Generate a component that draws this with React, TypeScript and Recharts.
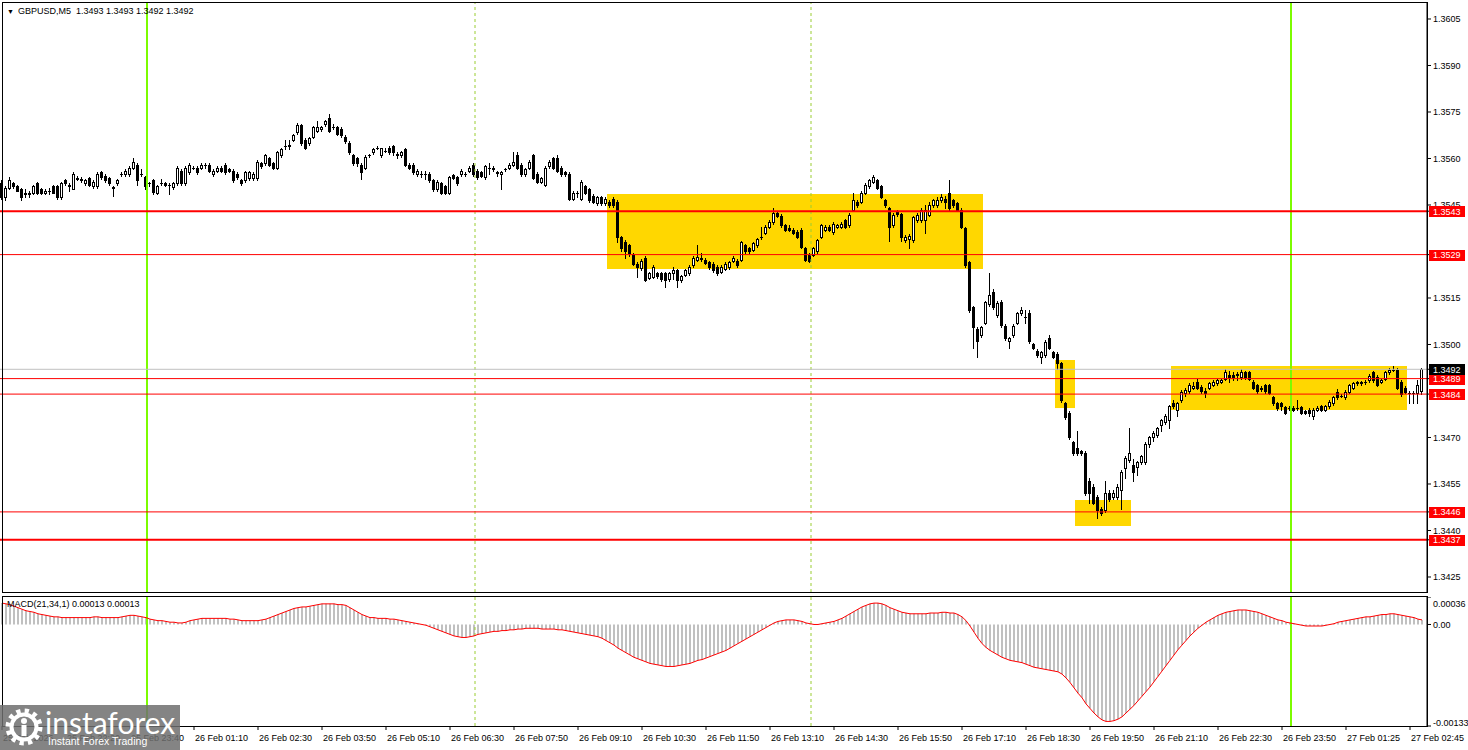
import { ComposedChart, Bar, Line, XAxis, YAxis, ReferenceLine, ReferenceArea } from 'recharts'

// GBPUSD M5, prices kept in pips above BASE
const BASE = 1.34

const opens = [
  152, 147.5, 150.5, 152, 151, 150, 148.5, 149, 149, 152,
  150, 149, 149.5, 151, 151, 147.6, 153, 151.5, 150, 153.7,
  153.5, 152, 153.7, 151, 151, 155.6, 154.4, 153.7, 150.8, 152,
  155, 155, 155, 157, 158, 155, 154, 152, 153, 149,
  152, 152, 151.5, 150.8, 152, 156, 152, 155.6, 157, 157,
  157, 158, 158, 155, 156, 157, 158, 156.5, 156, 155,
  153, 153, 153.7, 153.7, 153.7, 158.6, 158.5, 160, 158.6, 157,
  161, 164, 164, 166, 168.5, 170.8, 166, 165, 167, 169,
  169.5, 171, 173, 170, 170, 169.6, 167, 165, 161, 160,
  158, 157, 161, 162, 163.5, 161, 162.5, 163.5, 164, 161.5,
  161, 163, 158, 158, 155, 155, 155, 155, 153, 150,
  152, 151, 149, 154.7, 154, 155, 155, 156, 158, 156,
  155.5, 154, 157, 157, 155.5, 155, 156.5, 157, 158, 161,
  158, 155, 157, 161, 155, 152.4, 151.5, 157.5, 160, 160,
  157, 155.5, 155, 147, 149, 147, 151, 150, 148, 145.6,
  147.5, 145.6, 146, 147, 146, 134.6, 133, 132, 129, 126,
  124.7, 128, 121.5, 121.8, 123, 123, 123, 121, 123, 124,
  120.8, 122.5, 123, 125.6, 127.3, 128, 127.3, 126.6, 126, 125,
  123.4, 124.5, 125, 127, 127, 127.3, 132, 131, 130.5, 132,
  134.6, 136, 138, 139.5, 142.5, 141.5, 138.5, 137.5, 137, 136.3,
  137, 131, 129, 129, 130, 134.7, 137, 138, 136.3, 138,
  138, 140, 138.5, 143.4, 146, 146, 149, 151, 152.5, 153,
  151, 146.6, 144, 138.5, 142.8, 142, 133.7, 134, 133.7, 140,
  140, 140, 141.8, 145, 145, 146.5, 147, 148.8, 146.6, 145.6,
  143.4, 137.6, 126.6, 112, 105, 103, 107, 113, 117, 109.5,
  113.7, 106, 101, 103, 107, 110, 109, 110, 100, 98,
  96, 96.6, 102, 97.6, 97, 94, 81, 78, 68.6, 66.6,
  65.5, 65, 56, 54, 50.8, 47, 46.6, 52, 50.8, 50.8,
  53, 60, 62.7, 61, 60.4, 62, 62, 68, 70, 70.8,
  74, 75, 75.6, 81, 79, 82, 84.5, 85, 86, 88,
  86.3, 85, 86, 87, 87.6, 88, 89, 90, 90, 90,
  89.5, 91, 91, 88, 86.8, 86, 86.8, 86.8, 83, 81,
  81, 79.8, 79.5, 79.5, 79.5, 79.8, 78.5, 79, 77, 79,
  80, 79, 80, 81, 84.7, 83.5, 83, 84.7, 86, 87.5,
  87.8, 87.9, 88.5, 91, 89.5, 88, 89, 91, 91.8, 91.8,
  88, 86, 84.5, 84.4, 84.4, 85,
]

const highs = [
  153, 151, 154, 152.5, 151.5, 150.5, 150, 149.5, 151.5, 152.5,
  150.5, 150, 150.5, 151.5, 151.5, 152.5, 153.5, 152, 155.5, 154.5,
  154, 153.5, 154, 153, 155.5, 156, 155, 154, 151, 153.5,
  155.5, 156.5, 157.5, 160, 158.5, 156.5, 154.5, 152.5, 153.5, 151.5,
  153.5, 152.5, 152, 152.5, 157.5, 156.5, 157.5, 158.5, 157.5, 157.5,
  158.5, 158.5, 158.5, 156.5, 157.5, 157.5, 158.5, 157, 156.5, 155.5,
  153.5, 156, 156, 155.5, 159.5, 159, 161.5, 160.5, 159, 162.5,
  163.5, 166, 166, 168, 171.5, 171, 166.5, 167, 170.5, 172,
  170.5, 172.5, 174.5, 171, 170.5, 170, 167.5, 165.5, 161.5, 160.5,
  158.5, 161, 161.5, 163.5, 164, 163.5, 163.5, 164, 164.5, 162,
  162.5, 163.5, 158.5, 158.5, 156.5, 156, 156, 155.5, 153.5, 153,
  152.5, 151.5, 154.5, 155, 154.5, 156.5, 155.5, 157.5, 158.5, 156.5,
  156, 158, 158.5, 157.5, 156, 156, 157, 158.5, 162, 162,
  158.5, 157, 159.5, 161.5, 155.5, 154, 157.5, 159.5, 160.5, 161,
  157.5, 156, 155.5, 149.5, 149.5, 153, 151.5, 150.5, 148.5, 148,
  148, 147.5, 146.5, 147.5, 146.5, 135, 133.7, 132.5, 129.5, 126.5,
  127.5, 128.5, 123.5, 125.5, 123.5, 123.5, 123.5, 123.5, 125, 124.5,
  122.5, 124.5, 125.5, 128.5, 132, 129.5, 127.8, 127, 126.5, 125.5,
  125.5, 126.5, 127, 128.5, 127.5, 133.5, 132.5, 131.5, 133, 134.5,
  138, 138.5, 140, 144, 143, 142, 139, 138.5, 137.5, 136.8,
  137.5, 131.5, 129.5, 131.5, 134, 139, 138.5, 138.5, 139.5, 139,
  139.5, 140.5, 142.3, 149, 146.5, 149.5, 152, 153.5, 154.7, 153.5,
  151.5, 147, 144.5, 142.3, 143.3, 142.5, 135.2, 135.5, 141.5, 142.3,
  143.9, 145, 146, 147, 147.5, 148.5, 148, 153, 147, 146,
  144, 138, 127, 112.5, 105.5, 106, 114, 123, 118, 114,
  114.2, 106.5, 102.5, 106.5, 110.5, 112, 111, 111, 100.5, 98.5,
  98, 101.3, 103, 98, 97.5, 94.5, 81.5, 78.5, 69, 72,
  66, 65.5, 57, 55, 51.5, 47.5, 56, 53, 53, 55,
  59.5, 64, 73, 63, 62.5, 64.5, 68.5, 70.5, 72, 73.5,
  76, 77.5, 80.5, 82, 81.5, 85.2, 86, 87.5, 88, 89,
  87, 86, 88, 88.5, 89, 89, 92, 91.5, 91, 91,
  92, 91.5, 91.5, 88.5, 87.3, 86.5, 87.3, 87.3, 83.5, 81.5,
  81.5, 80.3, 80, 80, 82, 80.3, 79, 79.5, 79.5, 80,
  80.5, 80.5, 82, 83.5, 85.5, 84, 85.2, 87.4, 88, 88.3,
  88.3, 88.5, 90.5, 91.5, 90, 89, 91.5, 92.5, 93, 92.3,
  88.5, 86.5, 85, 85, 88.5, 92.5,
]

const lows = [
  147, 146.5, 150, 150.5, 149.5, 146.5, 147.5, 147.5, 148.5, 148.5,
  148.5, 148.5, 148.5, 148.8, 147, 147, 151.5, 149.5, 150, 153,
  152.5, 151.5, 151, 150.5, 150.5, 153.5, 152.5, 151.5, 148, 151.5,
  154.5, 154.5, 154.5, 156.5, 151.5, 154.5, 150, 151, 148.5, 148.5,
  151.5, 151, 148.5, 150, 151.5, 151.5, 151.5, 155, 156.5, 155,
  156.5, 157, 155.5, 154.5, 155.5, 155.5, 155, 155.5, 152.5, 153.5,
  151.5, 152.5, 153, 153, 153, 157, 158, 157.5, 156.5, 156.5,
  160.5, 163, 163, 165.5, 168, 164.5, 163, 164.5, 166.5, 168.5,
  169, 170.5, 168.5, 169.5, 167.5, 167, 165, 161.5, 158, 157.5,
  153.5, 156.5, 160.5, 161.5, 163, 160.5, 162, 161.5, 161, 160,
  160.5, 157.5, 156.5, 155, 154.5, 154, 153.5, 152.5, 149.5, 149.5,
  148.5, 148.5, 148.5, 153.5, 151.5, 154.5, 154.5, 155.5, 154.5, 153.5,
  154, 153.5, 155, 156, 154.5, 150, 156, 156.5, 157.5, 156.5,
  154.5, 154.5, 156.5, 153.5, 152, 152, 151, 157, 156.5, 155.5,
  154.5, 154.5, 146.5, 146.5, 147.5, 146.5, 148.5, 146, 145.5, 145,
  145, 145, 144.5, 144.5, 133, 130, 128, 128.5, 125.5, 121.8,
  124, 120.5, 121, 121.3, 121.5, 120.5, 118.5, 120.5, 121, 118.5,
  120.3, 122, 122.5, 125, 127, 127, 126, 124.5, 123.5, 122.5,
  123, 124, 124.5, 126.5, 125, 127, 129.5, 129.5, 130, 131.5,
  134, 135.5, 137.5, 139, 141, 138, 136.5, 136.5, 135.5, 134.2,
  131, 126.8, 126.5, 128.5, 129.5, 134.2, 136.5, 136.5, 135.8, 137.5,
  137.5, 137.5, 138, 143, 144.5, 145.5, 148.5, 150.5, 152, 150,
  147.1, 144.5, 133.5, 138, 141.5, 133.5, 133.2, 131, 133.2, 139.5,
  139.5, 136, 141.3, 144.5, 144.5, 146, 144, 143.5, 144.5, 143,
  137.5, 125, 110.5, 99, 96, 102.5, 106.5, 112.5, 111.5, 109,
  105.8, 101.5, 99, 102.5, 106.5, 109.5, 107, 100.5, 98.5, 96.1,
  94, 96.1, 98.5, 95.5, 92, 81.5, 76, 69.5, 64.5, 64.5,
  64.5, 51.5, 49, 48.5, 44, 45, 46.1, 49.5, 50.3, 50.3,
  47, 57, 62.2, 56, 58, 61.5, 61.5, 67, 69, 70.3,
  72, 74.5, 73, 79.5, 77, 81.5, 83.5, 84.5, 85.5, 85.5,
  84.5, 83, 85.5, 86.5, 87, 87.5, 88.5, 88, 88.5, 88.5,
  89, 89, 88.5, 85.5, 84.5, 85, 84.5, 84, 80.5, 79,
  79, 77.5, 79, 78.5, 79, 77.5, 77.5, 77, 76, 78.5,
  78.5, 78.5, 79.5, 80.5, 82.5, 83, 82.5, 84.2, 85.5, 87,
  87, 87.4, 88, 88, 86.5, 87.5, 88.5, 90.5, 91.3, 85.5,
  83.5, 84.2, 81, 81, 81, 84,
]

const closes = [
  147.5, 150.5, 153, 151, 149.5, 147.6, 149, 148.5, 151, 149,
  149, 149.5, 149.5, 149, 147.6, 152, 152, 151, 155, 153.5,
  153, 153, 151.5, 152.5, 155, 154, 153, 152, 150.5, 153,
  155, 156, 157, 159, 153, 155, 151, 152, 149.3, 151,
  152, 151.5, 151.5, 152, 157, 152, 157, 158, 157, 155.6,
  158, 158, 156, 156, 157, 156, 155.6, 156, 153, 154,
  152, 155.6, 155.6, 155, 159, 157.5, 161, 158, 157, 162,
  163, 164, 164.5, 167.6, 170.8, 165, 163.4, 166.6, 170, 170,
  170, 172, 169, 170, 168, 167.6, 165.5, 162, 158.5, 158.5,
  155.6, 160.5, 161, 163, 163.5, 163.5, 162.5, 162, 162, 161,
  162, 158, 157, 155.6, 156, 155, 155, 153, 150, 152.5,
  149, 149, 154, 153.7, 152, 156, 155, 157, 155, 154,
  154.5, 157.5, 157, 156.5, 155.4, 155.8, 156.5, 158, 159, 157,
  155, 156.6, 159, 153.7, 152.4, 153.7, 157, 159, 157, 156,
  155, 155, 147, 149, 149, 152.5, 149, 146.6, 146, 147.6,
  145.5, 147, 145, 145, 134.6, 131, 130, 129.5, 126, 125,
  127, 120.8, 123, 125, 122, 121, 120.8, 123, 124, 120.8,
  122, 124, 125, 128, 128.2, 127.5, 126.3, 125, 124, 123,
  125, 126, 126.6, 128, 125.6, 133, 130, 130, 132.7, 134,
  134.6, 138, 139.5, 142.5, 141.5, 138.5, 137, 137, 136, 134.7,
  131.5, 127.3, 127, 131, 133.7, 138.6, 138, 137, 139, 138.5,
  139, 138, 141.8, 146.6, 145, 149, 151.5, 153, 154, 150.5,
  147.6, 145, 138, 141.8, 142, 134.7, 134.7, 135, 141, 141.8,
  143.4, 143.4, 145, 146.6, 146.6, 147.5, 146, 144, 145, 143.4,
  138, 125.6, 111, 105.6, 101, 105.6, 113.7, 116, 112, 113.4,
  106.3, 102, 102, 106, 110, 111, 109, 101, 99, 96.6,
  97.6, 100.8, 99, 96, 94, 82, 76.6, 70, 65, 65,
  65, 52, 52, 49, 46.6, 45.5, 52, 50, 52, 54,
  59, 63.4, 65, 59, 62, 64, 68, 70, 71.5, 73,
  75.6, 77, 80, 80, 81, 84.7, 85.3, 87, 86.5, 86,
  85, 84.5, 87.5, 88, 88.5, 88.5, 91, 89.5, 89.5, 90.5,
  91, 89.5, 89, 86, 85, 85.5, 85, 84.5, 81, 79.5,
  80, 78, 79.5, 79, 79.5, 78, 78, 78, 79, 79.5,
  79, 80, 81.6, 83, 83, 83.5, 84.7, 86.9, 87.6, 87.8,
  87.6, 87.9, 89.8, 88.5, 87, 88.5, 91, 91.8, 91.8, 86,
  84, 84.7, 84.4, 84.4, 87, 92,
]

// MACD(21,34,1) in units of 0.00001
const macd = [
  28, 27, 26, 24, 22, 20, 18, 17, 16,
  14, 13, 12, 11, 10, 10, 9,
  9, 9, 9, 9, 9, 9, 9, 10, 10, 9, 9, 9, 9, 9, 10, 11, 12, 12,
  11, 10, 9,
  7, 6, 5, 5, 4,
  3, 3, 2, 2, 3,
  5, 6, 7, 8, 8, 8, 8, 8, 8, 8, 7, 7,
  6, 5, 5, 5, 5, 5, 6, 7,
  9, 11, 13, 15, 17, 19, 21,
  22, 23, 23, 24, 25, 26, 27, 27, 27,
  27, 26, 26, 25,
  22, 19, 16, 13, 11, 9,
  9, 8, 8, 8, 7, 7, 6,
  5, 4, 3, 2, 1, 0, -1,
  -3, -5, -7, -9, -11, -13,
  -15, -16, -17, -17, -16, -15,
  -13, -12, -11, -10, -9, -9,
  -8, -8, -7, -7, -6, -6, -5, -5, -5, -5, -6, -6, -6, -6, -7,
  -7, -8, -9, -10, -11, -12, -13, -14, -15, -16,
  -18, -21, -24, -27, -31, -34, -37, -40, -43, -45, -47,
  -49, -51, -52, -53, -54, -55, -55, -55, -54, -53,
  -52, -51, -49, -47, -46, -44, -42, -40, -38, -36, -34, -31, -28, -25, -22,
  -19, -16, -13, -10, -7, -4, -1, 2, 4, 5,
  6, 6, 6, 5, 4, 2, 1, 0, 0, 1,
  2, 3, 4, 6, 8, 11, 14, 17, 20, 23,
  25, 27, 28, 28, 27, 25, 22,
  20, 18, 16, 15, 14, 14, 14, 14, 14, 15, 15, 15, 16, 16, 15, 15,
  13, 10, 5, -2, -10, -18, -25,
  -30, -34, -37, -40, -43, -45, -47, -48, -49, -50, -52, -54, -56,
  -57, -58, -59, -60, -61, -62, -65,
  -70, -76, -83, -90, -96, -104, -110, -116, -121, -125,
  -127, -127, -126, -124, -121,
  -116, -111, -106, -100, -94, -88, -82, -75, -68, -61,
  -54, -47, -40, -33, -27, -21, -15, -10, -5, -1,
  3, 6, 9, 12, 14, 16, 17, 18, 19, 19,
  19, 18, 17, 16, 14, 12, 10, 8, 6, 5,
  3, 2, 1, 0, -1, -2, -2, -2, -2, -2,
  -1, 0, 1, 3, 4, 5, 6, 7, 8, 9,
  10, 10, 11, 12, 13, 13, 14, 14, 13, 12, 11, 10, 9, 7, 6,
]

const timeTickBars = [0, 16, 32, 48, 64, 80, 96, 112, 128, 144, 160, 176, 192, 208, 224, 240, 256, 272, 288, 304, 320, 336, 352]
const timeLabels = [
  '25 Feb 2026', '25 Feb 22:20', '25 Feb 23:40', '26 Feb 01:10', '26 Feb 02:30', '26 Feb 03:50',
  '26 Feb 05:10', '26 Feb 06:30', '26 Feb 07:50', '26 Feb 09:10', '26 Feb 10:30', '26 Feb 11:50',
  '26 Feb 13:10', '26 Feb 14:30', '26 Feb 15:50', '26 Feb 17:10', '26 Feb 18:30', '26 Feb 19:50',
  '26 Feb 21:10', '26 Feb 22:30', '26 Feb 23:50', '27 Feb 01:25', '27 Feb 02:45',
]

// scale labels left visible by the level boxes (1.3530 and 1.3485 sit fully under them)
const priceTicks = [1.3605, 1.359, 1.3575, 1.356, 1.3545, 1.3515, 1.35, 1.347, 1.3455, 1.344, 1.3425]
const levelPrices = [1.3543, 1.3529, 1.3489, 1.3484, 1.3446, 1.3437]
const bidPrice = 1.3492
const macdTicks = [0.00036, 0, -0.00133]
const macdTickLabels = ['0.00036', '0.00', '-0.00133']

// yellow zones: bar index from/to, price from/to
const zoneBarFrom = [151.25, 263.25, 268.25, 292.25]
const zoneBarTo = [245.25, 268.25, 282.25, 351.25]
const zoneHigh = [1.354855, 1.3495, 1.34498, 1.349306]
const zoneLow = [1.352435, 1.34795, 1.344145, 1.347887]

const sessionBars = [36.25, 322.25]
const separatorBars = [118.25, 202.25]

const X_DOMAIN: [number, number] = [-0.5, 356.25]
const FONT = '"Liberation Sans", Arial, sans-serif'

const rows = closes.map((c, i) => ({
  i,
  o: BASE + opens[i] / 1e4,
  h: BASE + highs[i] / 1e4,
  l: BASE + lows[i] / 1e4,
  c: BASE + c / 1e4,
  range: [BASE + lows[i] / 1e4, BASE + highs[i] / 1e4],
  m: (macd[i] ?? 0) / 1e5,
}))

function Candle(props: any) {
  const { x, y, width, height, payload } = props
  if (payload == null || !Number.isFinite(y) || !Number.isFinite(x)) return null
  const top = Math.min(y, y + height)
  const span = Math.abs(height)
  const { o, h, l, c } = payload
  const cx = Math.floor(x + width / 2)
  const pos = (v: number) => (h === l ? top : top + ((h - v) / (h - l)) * span)
  const bodyTop = Math.round(pos(Math.max(o, c)))
  const bodyBot = Math.round(pos(Math.min(o, c)))
  const wTop = Math.round(top)
  const wBot = Math.round(top + span)
  const bull = c > o
  return (
    <g shapeRendering="crispEdges">
      <line x1={cx + 0.5} x2={cx + 0.5} y1={wTop} y2={wBot + 1} stroke="#000" strokeWidth={1} />
      {bodyBot - bodyTop < 1 ? (
        <line x1={cx - 1} x2={cx + 2} y1={bodyTop + 0.5} y2={bodyTop + 0.5} stroke="#000" strokeWidth={1} />
      ) : bull ? (
        <rect x={cx - 0.5} y={bodyTop + 0.5} width={2} height={bodyBot - bodyTop} fill="#fff" stroke="#000" strokeWidth={1} />
      ) : (
        <rect x={cx - 1} y={bodyTop} width={3} height={bodyBot - bodyTop + 1} fill="#000" />
      )}
    </g>
  )
}

function PriceTick(props: any) {
  const { x, y, payload } = props
  const v = payload.value as number
  const isLevel = levelPrices.includes(v) || v === bidPrice
  if (isLevel) {
    return (
      <g>
        <rect x={x - 4} y={Math.round(y) - 5} width={36} height={11} fill={v === bidPrice ? '#000' : '#ff0000'} />
        <text x={x} y={y} dy={3.5} fontSize={9} fill="#fff" fontFamily={FONT}>{v.toFixed(4)}</text>
      </g>
    )
  }
  return <text x={x} y={y} dy={3.5} fontSize={9} fill="#000" fontFamily={FONT}>{v.toFixed(4)}</text>
}

function MacdTick(props: any) {
  const { x, y, payload, index } = props
  const v = payload.value as number
  const shift = v > 0 ? 6 : v < 0 ? -4 : 0
  return <text x={x} y={y + shift} dy={3.5} fontSize={9} fill="#000" fontFamily={FONT}>{macdTickLabels[index]}</text>
}

function TimeTick(props: any) {
  const { x, y, payload } = props
  const label = timeLabels[timeTickBars.indexOf(payload.value)]
  return <text x={x + 1} y={y + 9} fontSize={9} fill="#000" fontFamily={FONT}>{label}</text>
}

function Gear() {
  return (
    <svg width={40} height={42} style={{ position: 'absolute', left: 5, top: 706 }}>
      <circle cx={19} cy={21} r={16} fill="none" stroke="#fff" strokeWidth={5} strokeDasharray="4.2 4.2" />
      <circle cx={19} cy={21} r={12.5} fill="none" stroke="#fff" strokeWidth={4} />
      <circle cx={19} cy={15} r={3} fill="#fff" />
      <rect x={16.5} y={19} width={5} height={11} fill="#fff" />
    </svg>
  )
}

export default function App() {
  return (
    <div style={{ position: 'absolute', left: 0, top: 0, width: 1468, height: 750, background: '#fff', overflow: 'hidden', fontFamily: FONT }}>
      {/* price pane */}
      <div style={{ position: 'absolute', left: 0, top: 0 }}>
        <ComposedChart width={1468} height={595} data={rows} margin={{ top: 3, right: 0, bottom: 3, left: 0 }}>
          <XAxis dataKey="i" type="number" domain={X_DOMAIN} allowDataOverflow hide />
          <YAxis
            orientation="right"
            width={41}
            type="number"
            domain={[1.342016, 1.361016]}
            allowDataOverflow
            ticks={[...priceTicks, ...levelPrices, bidPrice]}
            interval={0}
            tickSize={4}
            tickMargin={2}
            axisLine={{ stroke: '#000' }}
            tickLine={{ stroke: '#000' }}
            tick={<PriceTick />}
          />
          {zoneBarFrom.map((x1, k) => (
            <ReferenceArea
              key={'z' + k}
              x1={x1}
              x2={zoneBarTo[k]}
              y1={zoneLow[k]}
              y2={zoneHigh[k]}
              fill="#ffd700"
              fillOpacity={1}
              stroke="none"
            />
          ))}
          {separatorBars.map((b) => (
            <ReferenceLine key={'s' + b} x={b} stroke="#9acd32" strokeDasharray="3 3" strokeWidth={1} />
          ))}
          <Bar dataKey="range" barSize={3} shape={<Candle />} isAnimationActive={false} />
          {sessionBars.map((b) => (
            <ReferenceLine key={'g' + b} x={b} stroke="#7cfc00" strokeWidth={2} />
          ))}
          <ReferenceLine y={bidPrice} stroke="#c0c0c0" strokeWidth={1} />
          {levelPrices.map((p) => (
            <ReferenceLine key={'l' + p} y={p} stroke="#ff0000" strokeWidth={p === 1.3543 || p === 1.3437 ? 2 : 1} />
          ))}
        </ComposedChart>
      </div>

      {/* MACD pane */}
      <div style={{ position: 'absolute', left: 0, top: 597 }}>
        <ComposedChart width={1468} height={153} data={rows} margin={{ top: 0, right: 0, bottom: 0, left: 0 }}>
          <XAxis
            dataKey="i"
            type="number"
            domain={X_DOMAIN}
            allowDataOverflow
            ticks={timeTickBars}
            interval={0}
            height={24}
            tickSize={4}
            tickMargin={2}
            axisLine={false}
            tickLine={{ stroke: '#000' }}
            tick={<TimeTick />}
          />
          <YAxis
            orientation="right"
            width={41}
            type="number"
            domain={[-0.00133, 0.00036]}
            allowDataOverflow
            ticks={macdTicks}
            interval={0}
            tickSize={4}
            tickMargin={2}
            axisLine={{ stroke: '#000' }}
            tickLine={{ stroke: '#000' }}
            tick={<MacdTick />}
          />
          {separatorBars.map((b) => (
            <ReferenceLine key={'ms' + b} x={b} stroke="#9acd32" strokeDasharray="3 3" strokeWidth={1} />
          ))}
          <Bar dataKey="m" barSize={2} fill="#c0c0c0" isAnimationActive={false} />
          {sessionBars.map((b) => (
            <ReferenceLine key={'mg' + b} x={b} stroke="#7cfc00" strokeWidth={2} />
          ))}
          <Line dataKey="m" type="linear" stroke="#ff0000" strokeWidth={1} dot={false} activeDot={false} isAnimationActive={false} />
        </ComposedChart>
      </div>

      {/* pane frames */}
      <div style={{ position: 'absolute', left: 2, top: 2, width: 1426, height: 591, border: '1px solid #000', boxSizing: 'border-box', pointerEvents: 'none' }} />
      <div style={{ position: 'absolute', left: 2, top: 596, width: 1426, height: 131, border: '1px solid #000', boxSizing: 'border-box', pointerEvents: 'none' }} />

      {/* titles */}
      <div style={{ position: 'absolute', left: 7, top: 5, fontSize: 9, color: '#000', whiteSpace: 'pre', lineHeight: '12px' }}>
        <span style={{ fontSize: 7, marginRight: 4 }}>▼</span>GBPUSD,M5  1.3493 1.3493 1.3492 1.3492
      </div>
      <div style={{ position: 'absolute', left: 7, top: 598, fontSize: 9, color: '#000', whiteSpace: 'pre', lineHeight: '12px' }}>
        MACD(21,34,1) 0.00013 0.00013
      </div>

      {/* watermark */}
      <div style={{ position: 'absolute', left: 0, top: 705, width: 180, height: 45, background: 'rgba(110,110,110,0.85)' }}>
        <div style={{ position: 'absolute', left: 45, top: 0, fontSize: 30, color: '#fff', lineHeight: '34px', fontFamily: 'Lato, "Liberation Sans", sans-serif' }}>instaforex</div>
        <div style={{ position: 'absolute', left: 48, top: 30, fontSize: 10.5, color: '#fff', lineHeight: '13px' }}>Instant Forex Trading</div>
      </div>
      <Gear />
    </div>
  )
}
